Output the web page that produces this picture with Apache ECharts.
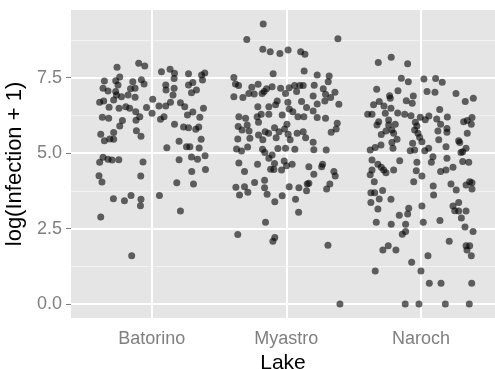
<!DOCTYPE html>
<html>
<head>
<meta charset="utf-8">
<script src="https://cdn.jsdelivr.net/npm/echarts@6/dist/echarts.min.js"></script>
<style>
  html, body { margin: 0; padding: 0; background: #fff; }
  #chart { width: 495px; height: 369px; }
</style>
</head>
<body>
<div id="chart"></div>
<script>
// Lakes on the x axis and the y tick values
const lakes = ['Batorino', 'Myastro', 'Naroch'];
const yTicks = [0, 2.5, 5, 7.5];
const yMinorTicks = [1.25, 3.75, 6.25, 8.75];

// Horizontal jitter (offset from the lake position) and log(Infection + 1) per fish
const batorinoJitter = [-0.258,-0.097,-0.052,0.072,0.136,0.169,0.273,0.370,0.394,0.377,-0.352,-0.238,-0.268,-0.251,-0.141,-0.077,-0.057,0.166,0.104,0.166,0.273,0.305,0.332,0.295,-0.362,-0.325,-0.268,-0.262,-0.158,-0.124,-0.176,-0.124,-0.225,-0.387,-0.357,-0.283,-0.317,-0.243,-0.193,-0.164,0.007,-0.039,0.002,0.054,0.104,0.139,0.158,0.106,0.213,0.245,-0.119,-0.089,-0.117,-0.218,-0.238,-0.367,-0.320,0.065,0.091,0.305,0.265,0.357,0.384,0.169,0.236,0.273,0.327,0.349,-0.379,-0.352,-0.283,-0.312,-0.283,-0.114,-0.080,0.203,0.367,0.112,0.258,0.283,0.352,-0.362,-0.387,-0.325,-0.295,-0.245,-0.065,0.203,0.295,0.340,0.396,-0.392,-0.370,-0.082,0.186,0.297,0.399,0.310,-0.285,-0.203,-0.154,-0.080,-0.084,0.057,0.213,-0.379,-0.149];
const batorinoLog = [7.85,7.98,7.89,7.70,7.78,7.65,7.63,7.59,7.66,7.42,7.39,7.52,7.40,7.26,7.37,7.43,7.29,7.47,7.26,7.15,7.26,7.34,7.09,7.00,7.15,7.06,7.04,6.93,7.13,7.15,6.93,6.85,6.87,6.69,6.73,6.76,6.52,6.49,6.54,6.49,6.79,6.51,6.32,6.56,6.56,6.69,6.93,7.09,6.67,6.54,6.37,6.21,6.09,6.08,5.90,6.19,6.16,6.12,6.21,6.36,6.26,6.19,6.49,5.96,5.87,5.84,5.79,5.87,5.63,5.41,5.68,5.47,5.46,5.74,5.56,5.39,5.46,5.18,5.21,5.21,5.17,4.86,4.70,4.80,4.77,4.78,4.71,4.78,4.87,4.80,4.91,4.25,4.04,4.24,4.02,4.39,4.46,3.98,3.49,3.42,3.60,3.47,3.26,3.60,3.08,2.88,1.60];

const myastroJitter = [-0.172,-0.294,0.383,-0.175,-0.120,-0.048,0.013,0.106,0.138,-0.098,0.132,0.229,0.318,-0.390,0.311,-0.378,-0.355,-0.210,-0.257,-0.106,-0.147,-0.043,0.021,0.061,0.100,0.125,0.207,0.274,-0.390,-0.323,-0.279,-0.239,-0.180,-0.165,-0.006,0.076,0.199,0.291,0.361,0.329,0.286,-0.068,0.011,0.113,0.229,0.390,-0.212,-0.130,-0.080,0.021,0.150,0.199,-0.353,-0.303,-0.217,-0.187,-0.130,-0.031,0.048,0.130,0.229,0.291,0.086,0.378,0.370,0.333,-0.358,-0.291,-0.329,-0.277,-0.207,-0.088,-0.013,0.004,-0.158,-0.207,-0.132,-0.054,-0.076,0.013,0.080,0.125,0.143,-0.175,0.028,-0.361,-0.271,0.199,-0.370,-0.333,-0.288,-0.177,-0.063,-0.006,0.063,0.204,0.296,-0.160,-0.130,-0.106,-0.353,-0.214,-0.088,-0.016,0.001,0.043,-0.117,-0.093,-0.036,0.167,0.262,0.269,-0.311,0.204,0.353,0.363,-0.236,-0.162,-0.375,-0.311,-0.286,-0.348,-0.162,-0.143,0.021,0.093,0.155,0.167,0.150,0.323,0.299,-0.031,-0.086,0.068,0.091,-0.155,-0.086,-0.100,0.309,0.398,-0.361];
const myastroLog = [9.28,8.77,8.79,8.44,8.36,8.30,8.42,8.36,8.28,7.63,7.72,7.59,7.56,7.51,7.37,7.29,7.24,7.28,7.18,7.20,7.13,7.15,7.17,7.24,7.24,7.24,7.25,7.13,6.87,6.84,6.98,6.96,6.98,7.04,6.98,7.04,6.89,6.95,7.02,6.84,6.73,6.73,6.69,6.71,6.63,6.62,6.54,6.54,6.60,6.46,6.51,6.40,6.21,6.16,6.21,6.29,6.29,6.26,6.37,6.21,6.18,6.16,6.21,5.99,5.80,5.69,5.88,5.93,5.77,5.73,6.02,5.84,5.80,5.96,5.71,5.60,5.66,5.71,5.51,5.63,5.66,5.71,5.51,5.44,5.44,5.47,5.49,5.36,5.14,5.07,5.20,5.13,5.15,5.16,5.13,5.11,5.10,5.02,4.83,4.94,4.67,4.63,4.66,4.74,4.58,4.63,4.47,4.46,4.44,4.55,4.55,4.63,4.39,4.30,4.39,4.24,4.03,4.10,3.87,3.89,3.70,3.61,3.85,3.64,3.89,3.85,3.98,4.00,3.75,3.98,3.81,3.59,3.39,3.47,3.04,2.71,2.20,2.08,1.95,0.00,2.30];

const narochJitter = [-0.317,-0.221,-0.099,-0.146,-0.094,0.022,0.109,0.158,-0.329,-0.171,0.045,0.104,0.260,0.389,0.329,-0.233,-0.228,-0.057,-0.109,-0.065,-0.310,-0.352,-0.275,-0.223,0.139,-0.396,-0.364,-0.265,-0.173,-0.121,-0.074,-0.005,0.059,0.117,0.196,0.032,0.379,0.317,0.344,0.374,-0.314,-0.327,-0.240,-0.240,-0.191,-0.042,-0.030,0.146,-0.216,-0.260,-0.047,0.126,0.193,0.193,0.344,-0.295,-0.203,-0.022,-0.178,-0.216,-0.010,0.007,0.132,0.280,0.288,-0.297,-0.340,-0.377,-0.208,-0.062,-0.080,-0.047,0.028,0.057,0.186,0.335,0.297,0.310,-0.364,-0.158,-0.030,0.077,0.089,0.193,0.310,0.355,-0.320,-0.295,-0.277,-0.260,-0.203,-0.364,-0.377,-0.347,-0.035,0.007,-0.054,0.146,0.186,0.238,0.091,0.094,0.223,0.262,0.335,0.362,0.379,0.379,-0.372,-0.344,-0.285,-0.310,-0.372,-0.223,-0.320,-0.091,-0.099,0.007,-0.161,0.238,0.280,0.251,0.280,0.335,0.300,0.141,-0.332,0.017,-0.221,-0.114,0.327,0.387,-0.114,-0.139,-0.243,-0.283,-0.186,0.210,0.335,0.362,0.342,0.374,0.052,-0.069,-0.340,0.000,0.062,0.149,0.377,-0.117,-0.015,0.181,0.359];
const narochLog = [8.00,8.18,7.96,7.48,7.37,7.46,7.47,7.35,7.12,7.07,7.04,7.02,6.98,6.82,6.71,6.90,6.82,6.89,6.74,6.65,6.71,6.60,6.56,6.49,6.45,6.29,6.29,6.32,6.33,6.29,6.24,6.19,6.23,6.13,6.20,6.11,6.18,6.04,6.08,5.96,6.04,5.93,6.10,5.93,5.96,6.02,5.90,5.96,5.77,5.73,5.77,5.73,5.82,5.69,5.66,5.62,5.66,5.66,5.46,5.35,5.53,5.38,5.44,5.41,5.35,5.27,5.19,5.10,5.16,5.33,5.08,5.10,5.08,5.16,5.21,5.16,5.02,5.05,4.77,4.75,4.70,4.70,4.88,4.83,4.72,4.70,4.63,4.53,4.44,4.35,4.44,4.44,4.28,4.05,4.42,4.24,4.05,4.39,4.44,4.53,3.91,3.61,3.98,3.78,3.94,4.05,4.02,3.81,3.69,3.69,3.76,3.48,3.36,3.47,3.15,3.17,2.98,3.25,2.94,3.25,3.36,3.09,3.08,3.08,2.85,2.77,2.71,2.71,2.64,2.64,2.55,2.40,2.40,2.31,1.93,1.79,1.79,2.08,1.93,1.93,1.79,1.60,1.60,1.38,1.09,1.09,0.69,0.69,0.69,0.00,0.00,0.00,0.00];

const jitterByLake = [batorinoJitter, myastroJitter, narochJitter];
const logByLake = [batorinoLog, myastroLog, narochLog];

// Points: lake position (1, 2, 3) plus its jitter
const points = [];
lakes.forEach((lake, i) => {
  jitterByLake[i].forEach((j, k) => points.push([i + 1 + j, logByLake[i][k]]));
});

const tickGrey = '#7F7F7F';
const fontFamily = 'Liberation Sans, Arial, sans-serif';

// Panel grid lines, drawn on the axes' own scales
const gridLines = []
  .concat(yMinorTicks.map(v => ({ yAxis: v, lineStyle: { color: '#F2F2F2', width: 1, type: 'solid' } })))
  .concat(yTicks.map(v => ({ yAxis: v, lineStyle: { color: '#FFFFFF', width: 2, type: 'solid' } })))
  .concat(lakes.map((l, i) => ({ xAxis: i + 1, lineStyle: { color: '#FFFFFF', width: 2, type: 'solid' } })));

const chart = echarts.init(document.getElementById('chart'), null, { renderer: 'canvas' });
chart.setOption({
  animation: false,
  backgroundColor: '#FFFFFF',
  grid: {
    left: 71, right: 0, top: 10, bottom: 51,
    containLabel: false, outerBoundsMode: 'none',
    show: true, backgroundColor: '#E5E5E5', borderWidth: 0
  },
  xAxis: {
    type: 'value',
    min: 0.4, max: 3.55,
    splitLine: { show: false },
    axisLine: { show: false },
    axisTick: { show: true, customValues: [1, 2, 3], length: 5, lineStyle: { color: tickGrey, width: 1 } },
    axisLabel: {
      customValues: [1, 2, 3],
      formatter: v => lakes[Math.round(v) - 1],
      color: tickGrey, fontSize: 18, margin: 12, fontFamily
    },
    name: 'Lake', nameLocation: 'middle', nameGap: 33,
    nameTextStyle: { color: '#000000', fontSize: 21, fontFamily }
  },
  yAxis: {
    type: 'value',
    min: -0.464, max: 9.744,
    splitLine: { show: false },
    axisLine: { show: false },
    axisTick: { show: true, customValues: yTicks, length: 5, lineStyle: { color: tickGrey, width: 1 } },
    axisLabel: {
      customValues: yTicks,
      formatter: v => v.toFixed(1),
      color: tickGrey, fontSize: 18, margin: 9, fontFamily
    },
    name: 'log(Infection + 1)', nameLocation: 'middle', nameGap: 43,
    nameTextStyle: { color: '#000000', fontSize: 22, fontFamily }
  },
  series: [
    {
      type: 'scatter', data: [], z: 1, silent: true,
      markLine: { z: 1, silent: true, symbol: 'none', label: { show: false }, animation: false, data: gridLines }
    },
    {
      type: 'scatter', z: 3, silent: true,
      symbol: 'circle', symbolSize: 7,
      itemStyle: { color: '#000000', opacity: 0.6 },
      data: points
    }
  ]
});
</script>
</body>
</html>
